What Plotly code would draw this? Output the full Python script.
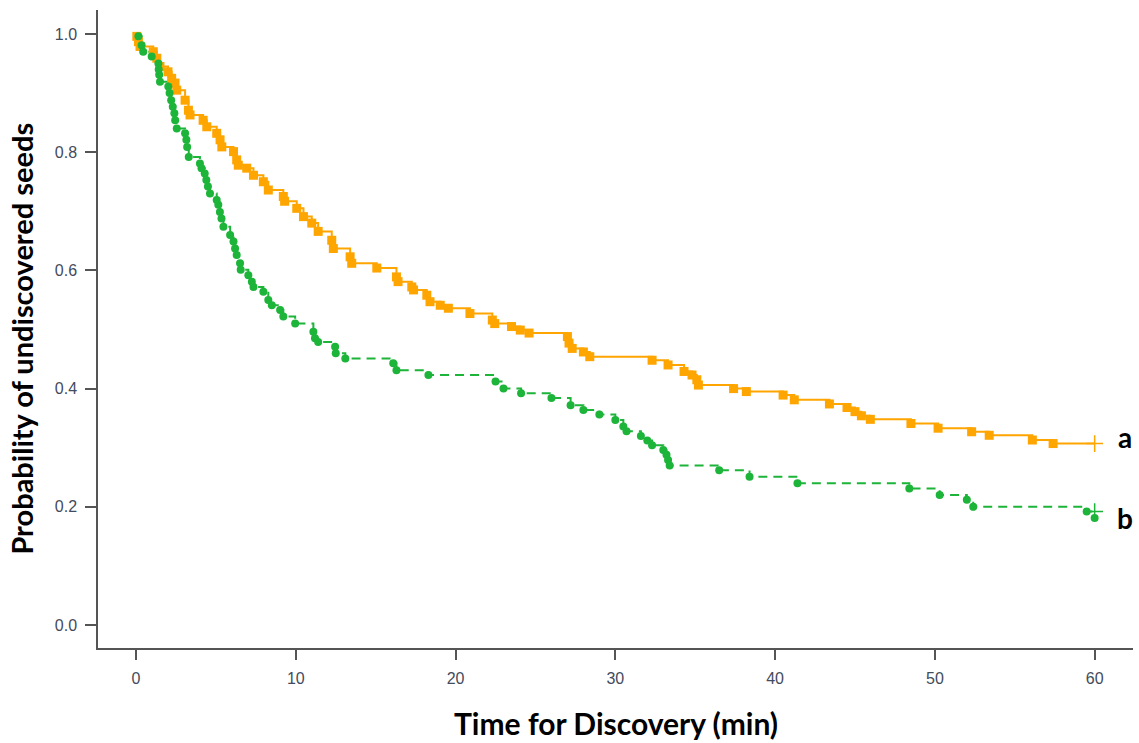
import plotly.graph_objects as go

# Group a (orange, solid)
a_time = [0.05, 0.15, 0.25, 1.08, 1.3, 1.5, 2.0, 2.23, 2.44, 2.55, 3.07, 3.28, 3.38, 4.2, 4.43,
          5.05, 5.26, 5.37, 6.1, 6.3, 6.4, 6.93, 7.35, 7.97, 8.28, 9.22, 9.3, 10.06, 10.48, 11.0,
          11.4, 12.25, 12.35, 13.4, 13.5, 15.07, 16.3, 16.4, 17.26, 17.37, 18.2, 18.4, 19.04, 19.55,
          20.9, 22.3, 22.45, 23.5, 24.05, 24.6, 27.0, 27.1, 27.3, 28.0, 28.4, 32.3, 33.3, 34.3, 34.8,
          35.1, 35.2, 37.4, 38.2, 40.5, 41.2, 43.4, 44.5, 45.0, 45.4, 45.96, 48.5, 50.2, 52.3, 53.4,
          56.1, 57.4]
a_surv = [0.996, 0.987, 0.979, 0.970, 0.959, 0.945, 0.936, 0.925, 0.917, 0.905, 0.888, 0.871, 0.863,
          0.854, 0.843, 0.832, 0.821, 0.809, 0.801, 0.787, 0.778, 0.773, 0.761, 0.750, 0.736, 0.725,
          0.717, 0.705, 0.691, 0.680, 0.666, 0.651, 0.637, 0.623, 0.612, 0.604, 0.589, 0.581, 0.572,
          0.567, 0.558, 0.547, 0.541, 0.536, 0.527, 0.516, 0.510, 0.505, 0.499, 0.494, 0.488, 0.477,
          0.468, 0.462, 0.454, 0.448, 0.440, 0.429, 0.423, 0.415, 0.406, 0.400, 0.395, 0.389, 0.381,
          0.374, 0.368, 0.361, 0.354, 0.348, 0.341, 0.333, 0.327, 0.321, 0.313, 0.307]
a_end = 60.0

# Group b (green, dashed)
b_time = [0.15, 0.35, 0.45, 0.98, 1.4, 1.42, 1.45, 1.5, 2.02, 2.1, 2.2, 2.3, 2.4, 2.45, 2.55, 3.07,
          3.15, 3.2, 3.3, 4.0, 4.1, 4.3, 4.4, 4.5, 4.63, 5.05, 5.15, 5.25, 5.35, 5.47, 5.89, 6.1, 6.2,
          6.3, 6.51, 6.55, 7.03, 7.25, 7.35, 7.97, 8.28, 8.5, 9.02, 9.22, 9.96, 11.1, 11.2, 11.4,
          12.46, 12.5, 13.1, 16.1, 16.3, 18.3, 22.5, 23.0, 24.1, 26.0, 27.2, 28.0, 29.0, 30.0, 30.5,
          30.7, 31.6, 32.0, 32.3, 33.0, 33.2, 33.3, 33.4, 36.5, 38.4, 41.4, 48.4, 50.3, 52.0, 52.4,
          59.5, 60.0]
b_surv = [0.996, 0.981, 0.970, 0.962, 0.950, 0.940, 0.931, 0.919, 0.911, 0.900, 0.888, 0.877, 0.866,
          0.854, 0.840, 0.832, 0.821, 0.809, 0.792, 0.781, 0.773, 0.764, 0.753, 0.742, 0.730, 0.719,
          0.711, 0.699, 0.688, 0.674, 0.660, 0.649, 0.637, 0.626, 0.612, 0.601, 0.592, 0.581, 0.572,
          0.564, 0.550, 0.541, 0.533, 0.522, 0.510, 0.496, 0.485, 0.479, 0.471, 0.460, 0.451, 0.443,
          0.431, 0.423, 0.412, 0.400, 0.392, 0.384, 0.372, 0.364, 0.356, 0.347, 0.336, 0.328, 0.320,
          0.312, 0.304, 0.296, 0.288, 0.279, 0.270, 0.262, 0.251, 0.240, 0.231, 0.220, 0.212, 0.200,
          0.192, 0.181]
b_end = 60.0

x_ticks = [0, 10, 20, 30, 40, 50, 60]
y_ticks = [0.0, 0.2, 0.4, 0.6, 0.8, 1.0]
y_tick_text = ["0.0", "0.2", "0.4", "0.6", "0.8", "1.0"]

ORANGE = "#FFA500"
GREEN = "#1DB43A"

fig = go.Figure()

# step lines
fig.add_trace(go.Scatter(x=[0] + a_time + [a_end], y=[1.0] + a_surv + [a_surv[-1]],
                         mode="lines", line=dict(color=ORANGE, width=2, shape="hv"),
                         showlegend=False, hoverinfo="skip"))
fig.add_trace(go.Scatter(x=[0] + b_time + [b_end], y=[1.0] + b_surv + [b_surv[-1]],
                         mode="lines", line=dict(color=GREEN, width=2, shape="hv", dash="9px,6px"),
                         showlegend=False, hoverinfo="skip"))
# event markers
fig.add_trace(go.Scatter(x=a_time, y=a_surv, mode="markers",
                         marker=dict(symbol="square", size=9, color=ORANGE),
                         showlegend=False))
fig.add_trace(go.Scatter(x=b_time, y=b_surv, mode="markers",
                         marker=dict(symbol="circle", size=8, color=GREEN),
                         showlegend=False))
# censor marks
fig.add_trace(go.Scatter(x=[a_end], y=[a_surv[-1]], mode="markers",
                         marker=dict(symbol="cross-thin", size=12, line=dict(color=ORANGE, width=1.5)),
                         showlegend=False))
fig.add_trace(go.Scatter(x=[b_end], y=[b_surv[-2]], mode="markers",
                         marker=dict(symbol="cross-thin", size=12, line=dict(color=GREEN, width=1.5)),
                         showlegend=False))

tickfont = dict(family="Liberation Sans, Arial, sans-serif", size=16, color="#434b5c")
fig.update_xaxes(range=[-2.38, 62.4], tickvals=x_ticks, ticks="outside", ticklen=10, tickwidth=1.5,
                 tickcolor="#555555", showline=True, linecolor="#555555", linewidth=1.5,
                 showgrid=False, zeroline=False, tickfont=tickfont, ticklabelstandoff=5)
fig.update_yaxes(range=[-0.0389, 1.0406], tickvals=y_ticks, ticktext=y_tick_text, ticks="outside",
                 ticklen=11, tickwidth=1.5, tickcolor="#555555", showline=True, linecolor="#555555",
                 linewidth=1.5, showgrid=False, zeroline=False, tickfont=tickfont, ticklabelstandoff=5)

title_font = dict(family="Lato, sans-serif", size=30, color="black")
fig.add_annotation(text="<b>Time for Discovery (min)</b>", xref="paper", yref="paper",
                   x=0.5, y=-0.118, xanchor="center", yanchor="middle", showarrow=False,
                   font=title_font)
fig.add_annotation(text="<b>Probability of undiscovered seeds</b>", xref="paper", yref="paper",
                   x=-0.0734, y=0.485, xanchor="center", yanchor="middle", showarrow=False,
                   textangle=-90, font=dict(family="Lato, sans-serif", size=29, color="black"))
label_font = dict(family="Lato, sans-serif", size=28, color="black")
fig.add_annotation(text="<b>a</b>", x=61.9, y=0.318, xref="x", yref="y", showarrow=False,
                   xanchor="center", yanchor="middle", font=label_font)
fig.add_annotation(text="<b>b</b>", x=61.9, y=0.181, xref="x", yref="y", showarrow=False,
                   xanchor="center", yanchor="middle", font=label_font)

fig.update_layout(width=1139, height=743, margin=dict(l=98, r=6, t=10, b=95),
                  plot_bgcolor="white", paper_bgcolor="white")

fig.write_html("out.html")
